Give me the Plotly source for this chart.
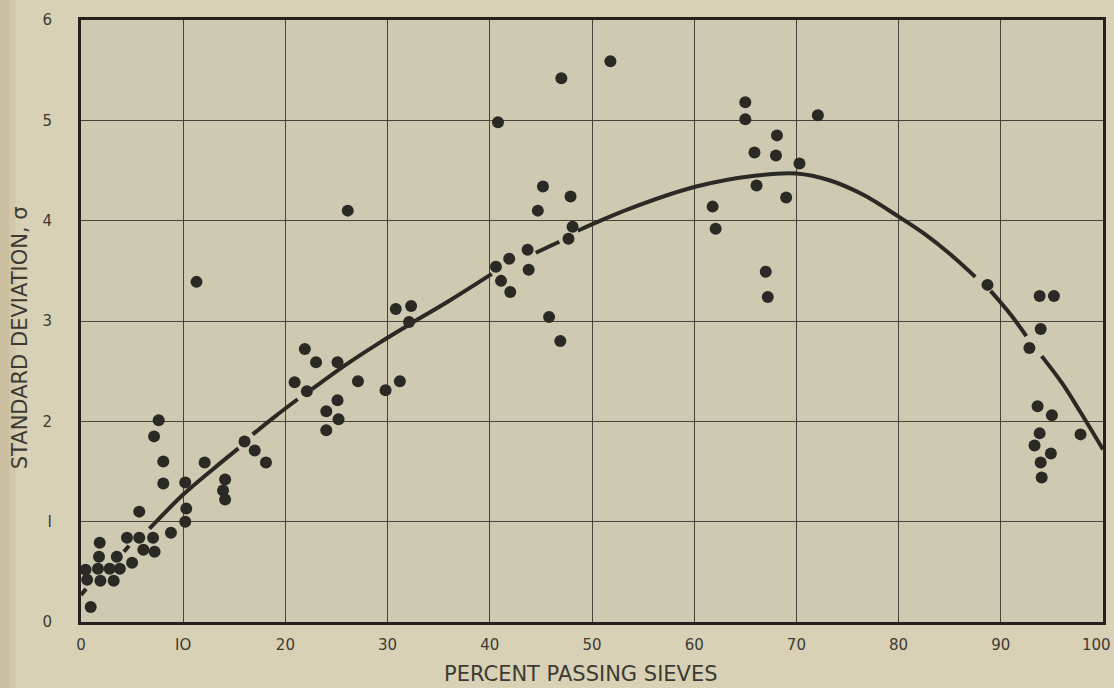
import plotly.graph_objects as go

# Observed points: percent passing sieves vs standard deviation
pct_passing = [
    0.95, 0.45, 1.66, 2.8, 3.8, 0.6, 1.9, 3.2, 1.76, 3.5, 1.83, 5.0, 6.1, 7.2,
    4.5, 5.7, 7.05, 8.8, 5.7, 10.2, 10.3, 10.2, 7.6, 7.15, 8.05, 8.05, 11.3,
    12.1, 14.1, 13.9, 14.1, 16.0, 17.0, 18.1, 21.9, 23.0, 25.1, 20.9, 22.1,
    25.1, 24.0, 25.2, 24.0, 26.1, 27.1, 29.8, 31.2, 30.8, 32.3, 32.1, 47.0,
    51.8, 40.8, 45.2, 47.9, 44.7, 48.1, 47.7, 43.7, 41.9, 40.6, 43.8, 41.1,
    42.0, 45.8, 46.9, 65.0, 65.0, 72.1, 68.1, 65.9, 68.0, 70.3, 66.1, 69.0,
    61.8, 62.1, 67.0, 67.2, 88.7, 93.8, 95.2, 93.9, 92.8, 93.6, 95.0, 93.8,
    93.3, 97.8, 94.9, 93.9, 94.0,
]
std_dev = [
    0.15, 0.52, 0.53, 0.53, 0.53, 0.42, 0.41, 0.41, 0.65, 0.65, 0.79, 0.59,
    0.72, 0.70, 0.84, 0.84, 0.84, 0.89, 1.10, 1.00, 1.13, 1.39, 2.01, 1.85,
    1.60, 1.38, 3.39, 1.59, 1.42, 1.31, 1.22, 1.80, 1.71, 1.59, 2.72, 2.59,
    2.59, 2.39, 2.30, 2.21, 2.10, 2.02, 1.91, 4.10, 2.40, 2.31, 2.40, 3.12,
    3.15, 2.99, 5.42, 5.59, 4.98, 4.34, 4.24, 4.10, 3.94, 3.82, 3.71, 3.62,
    3.54, 3.51, 3.40, 3.29, 3.04, 2.80, 5.18, 5.01, 5.05, 4.85, 4.68, 4.65,
    4.57, 4.35, 4.23, 4.14, 3.92, 3.49, 3.24, 3.36, 3.25, 3.25, 2.92, 2.73,
    2.15, 2.06, 1.88, 1.76, 1.87, 1.68, 1.59, 1.44,
]

# Fitted curve (None = break where the line is hidden by dots)
curve_x = [0.0, 0.5, None, 4.2, 4.7, None, 6.7, 10.0, 13.0, 15.4, None,
           16.8, 19.0, 21.2, None, 22.6, 26.0, 29.0, 31.9, None,
           32.5, 36.0, 40.2, None, 44.5, 46.8, None,
           48.6, 53.7, 60.2, 66.1, 70.0, 73.3, 76.5, 80.0, 82.5, 85.0, 87.5, None,
           89.0, 91.0, 92.5, None, 94.0, 96.0, 97.8, 100.0]
curve_y = [0.27, 0.33, None, 0.70, 0.76, None, 0.93, 1.27, 1.53, 1.73, None,
           1.87, 2.05, 2.22, None, 2.32, 2.57, 2.77, 2.95, None,
           2.99, 3.20, 3.47, None, 3.68, 3.79, None,
           3.90, 4.12, 4.34, 4.45, 4.47, 4.40, 4.26, 4.04, 3.87, 3.67, 3.44, None,
           3.30, 3.06, 2.85, None, 2.65, 2.38, 2.09, 1.72]

x_ticks = [0, 10, 20, 30, 40, 50, 60, 70, 80, 90, 100]
x_ticklabels = ["0", "IO", "20", "30", "40", "50", "60", "70", "80", "90", "100"]
y_ticks = [0, 1, 2, 3, 4, 5, 6]
y_ticklabels = ["0", "I", "2", "3", "4", "5", "6"]

ink = "#2b2924"
text_col = "#3d3a32"
font_family = "DejaVu Sans, Liberation Sans, sans-serif"

fig = go.Figure()
fig.add_trace(go.Scatter(
    x=curve_x, y=curve_y, mode="lines", line_shape="spline",
    line=dict(color=ink, width=4), connectgaps=False, hoverinfo="skip",
    showlegend=False,
))
fig.add_trace(go.Scatter(
    x=pct_passing, y=std_dev, mode="markers",
    marker=dict(color=ink, size=12, line=dict(width=0)),
    showlegend=False,
))

# last x tick label is drawn as an annotation nudged inside the page edge
shown_x_labels = x_ticklabels[:-1] + [""]

fig.update_layout(
    width=1114, height=688,
    margin=dict(l=81, r=11, t=20, b=66, autoexpand=False),
    paper_bgcolor="#d8d1b6",
    plot_bgcolor="#cec9b1",
    font=dict(family=font_family, color=text_col, size=14),
    xaxis=dict(
        range=[0, 100], tickvals=x_ticks, ticktext=shown_x_labels,
        showgrid=True, gridcolor="#47433a", gridwidth=1.3,
        zeroline=False, showline=True, linecolor="#24221e", linewidth=3,
        mirror=True, ticks="", ticklabelstandoff=7,
        ticklabeloverflow="allow", automargin=False,
        tickfont=dict(size=15, color=text_col),
    ),
    yaxis=dict(
        range=[0, 6], tickvals=y_ticks, ticktext=y_ticklabels,
        showgrid=True, gridcolor="#47433a", gridwidth=1.3,
        zeroline=False, showline=True, linecolor="#24221e", linewidth=3,
        mirror=True, ticks="", ticklabelstandoff=23,
        ticklabeloverflow="allow", automargin=False,
        tickfont=dict(size=15, color=text_col),
    ),
    shapes=[
        dict(type="rect", xref="paper", yref="paper",
             x0=-0.0793, x1=-0.0700, y0=-0.12, y1=1.04,
             fillcolor="#bfb08c", opacity=0.55, line=dict(width=0), layer="below"),
        dict(type="rect", xref="paper", yref="paper",
             x0=-0.0700, x1=-0.0640, y0=-0.12, y1=1.04,
             fillcolor="#c9bd9d", opacity=0.45, line=dict(width=0), layer="below"),
    ],
    annotations=[
        dict(text=x_ticklabels[-1], xref="paper", yref="paper",
             x=1.0098, y=-0.0382, xanchor="right", yanchor="middle",
             showarrow=False, font=dict(size=15, color=text_col, family=font_family)),
        dict(text="PERCENT PASSING SIEVES", xref="paper", yref="paper",
             x=0.489, y=-0.0864, xanchor="center", yanchor="middle",
             showarrow=False, font=dict(size=21, color=text_col, family=font_family)),
        dict(text="STANDARD DEVIATION, σ", xref="paper", yref="paper",
             x=-0.0597, y=0.473, xanchor="center", yanchor="middle",
             textangle=-90, showarrow=False,
             font=dict(size=21, color=text_col, family=font_family)),
    ],
)

fig.write_html(
    "out.html",
    config={"displayModeBar": False},
    post_script="document.body.style.margin='0';document.body.style.padding='0';",
)
